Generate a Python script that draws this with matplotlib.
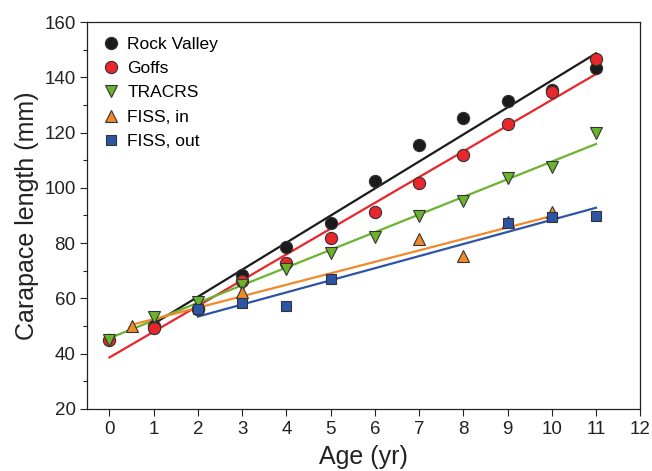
import matplotlib.pyplot as plt
from matplotlib.ticker import MultipleLocator

plt.rcParams['font.family'] = ['Liberation Sans', 'DejaVu Sans']

# Datos
rv_x = [1, 2, 3, 4, 5, 6, 7, 8, 9, 10, 11]
rv_y = [50, 56, 68.5, 78.7, 87.3, 102.6, 115.5, 125.3, 131.5, 135.4, 143.5]

goffs_x = [0, 1, 2, 3, 4, 5, 6, 7, 8, 9, 10, 11]
goffs_y = [45, 49.4, 56, 66.3, 72.9, 81.9, 91.4, 101.6, 111.9, 123, 134.6, 146.5]

tracrs_x = [0, 1, 2, 3, 4, 5, 6, 7, 8, 9, 10, 11]
tracrs_y = [45, 53.4, 58.8, 64.9, 70.5, 76.3, 82.1, 89.8, 95.3, 103.5, 107.7, 120]

fin_x = [0.5, 3, 7, 8, 9, 10]
fin_y = [50, 62.4, 81.4, 75.4, 87.8, 91.4]

fout_x = [2, 3, 4, 5, 9, 10, 11]
fout_y = [56, 58.2, 57.3, 66.9, 87.4, 89.6, 89.9]

# Rectas de ajuste (extremos)
rv_fit_x, rv_fit_y = [1, 11], [50.8, 148.7]
goffs_fit_x, goffs_fit_y = [0, 11], [38.6, 141.2]
tracrs_fit_x, tracrs_fit_y = [0, 11], [45.6, 115.9]
fin_fit_x, fin_fit_y = [0.5, 10], [50.4, 89.8]
fout_fit_x, fout_fit_y = [2, 11], [53.4, 92.8]

series = [
    ("Rock Valley", rv_x, rv_y, rv_fit_x, rv_fit_y, "o", "#1b1b1b"),
    ("Goffs", goffs_x, goffs_y, goffs_fit_x, goffs_fit_y, "o", "#e8262b"),
    ("TRACRS", tracrs_x, tracrs_y, tracrs_fit_x, tracrs_fit_y, "v", "#6ab42d"),
    ("FISS, in", fin_x, fin_y, fin_fit_x, fin_fit_y, "^", "#f0892a"),
    ("FISS, out", fout_x, fout_y, fout_fit_x, fout_fit_y, "s", "#2d55a5"),
]
tamanos = {"o": 8.8, "v": 8.5, "^": 8.5, "s": 7.6}

fig = plt.figure(figsize=(6.52, 4.71), dpi=100)
ax = fig.add_axes([0.134, 0.132, 0.848, 0.821])

for name, x, y, fx, fy, m, c in series:
    ax.plot(fx, fy, color=c, lw=1.6, zorder=2)
for name, x, y, fx, fy, m, c in series:
    ax.plot(x, y, linestyle="none", marker=m, markersize=tamanos[m], markerfacecolor=c,
            markeredgecolor="#333333", markeredgewidth=0.8, label=name, zorder=3)

ax.set_xlim(-0.5, 12)
ax.set_ylim(20, 160)
ax.xaxis.set_major_locator(MultipleLocator(1))
ax.yaxis.set_major_locator(MultipleLocator(20))
ax.yaxis.set_minor_locator(MultipleLocator(10))
ax.tick_params(axis="both", which="both", direction="out", top=False, right=False,
               labelsize=13.5, colors="#222222")
ax.tick_params(which="major", length=5, width=0.8)
ax.tick_params(which="minor", length=3, width=0.8)
for s in ax.spines.values():
    s.set_linewidth(0.9)
    s.set_color("#222222")

ax.set_xlabel("Age (yr)", fontsize=18, color="#222222", labelpad=5)
ax.set_ylabel("Carapace length (mm)", fontsize=18, color="#222222", labelpad=4)

ax.legend(loc="upper left", frameon=False, fontsize=12.5, handletextpad=0.45,
          borderaxespad=0.55, borderpad=0.3, labelspacing=0.52, handlelength=1.0)

fig.savefig("out.png", dpi=100)
